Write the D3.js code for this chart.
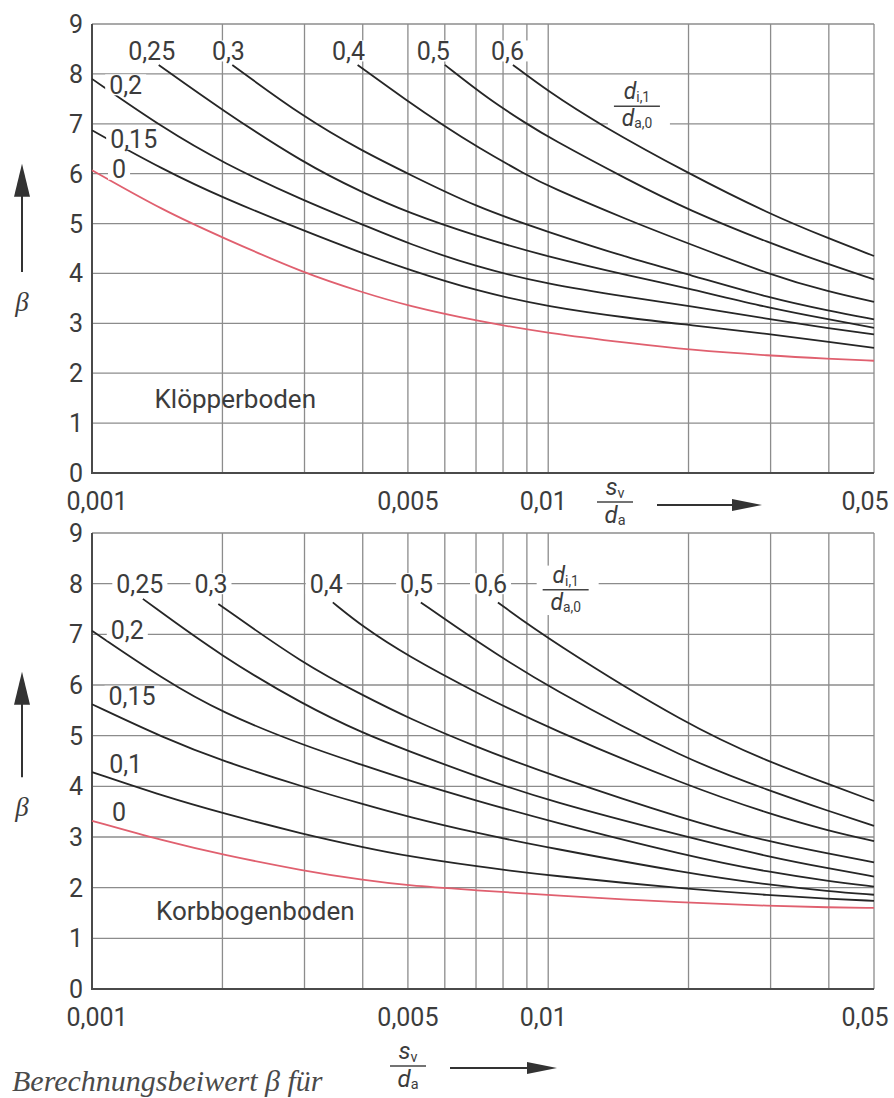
<!DOCTYPE html>
<html>
<head>
<meta charset="utf-8">
<script src="https://cdn.jsdelivr.net/npm/d3@7"></script>
<style>
  body { margin: 0; background: #fff; }
  text { font-family: Roboto, "DejaVu Sans", sans-serif; fill: #3c3c3c; }
</style>
</head>
<body>
<svg id="chart" width="894" height="1098"></svg>
<script>
// x = s_v / d_a (log), y = beta
var xTickValues = [0.001, 0.005, 0.01, 0.05];
var xTickLabels = ['0,001', '0,005', '0,01', '0,05'];
var xGridValues = [0.002, 0.003, 0.004, 0.005, 0.006, 0.007, 0.008, 0.009, 0.01, 0.02, 0.03, 0.04, 0.05];
var yTickValues = [0, 1, 2, 3, 4, 5, 6, 7, 8, 9];

// Klöpperboden, one array per d_i,1/d_a,0
var ratioLabelsTop = ['0', '0,15', '0,2', '0,25', '0,3', '0,4', '0,5', '0,6'];
var kl00 = [[0.001, 6.07], [0.0015, 5.25], [0.002, 4.72], [0.003, 4.0], [0.004, 3.62], [0.005, 3.35], [0.007, 3.05], [0.01, 2.8], [0.015, 2.6], [0.02, 2.47], [0.03, 2.35], [0.04, 2.29], [0.05, 2.25]];
var kl15 = [[0.001, 6.87], [0.0015, 6.07], [0.002, 5.52], [0.003, 4.85], [0.004, 4.4], [0.005, 4.08], [0.007, 3.65], [0.01, 3.33], [0.015, 3.1], [0.02, 2.97], [0.03, 2.78], [0.04, 2.63], [0.05, 2.51]];
var kl20 = [[0.001, 7.9], [0.0015, 6.9], [0.002, 6.22], [0.003, 5.45], [0.004, 4.98], [0.005, 4.6], [0.007, 4.13], [0.01, 3.78], [0.015, 3.52], [0.02, 3.35], [0.03, 3.08], [0.04, 2.9], [0.05, 2.78]];
var kl25 = [[0.00146, 8.18], [0.002, 7.27], [0.003, 6.2], [0.004, 5.62], [0.005, 5.22], [0.007, 4.75], [0.01, 4.33], [0.015, 3.95], [0.02, 3.7], [0.03, 3.3], [0.04, 3.08], [0.05, 2.91]];
var kl30 = [[0.0021, 8.18], [0.003, 7.12], [0.004, 6.45], [0.005, 6.0], [0.007, 5.33], [0.01, 4.83], [0.015, 4.3], [0.02, 3.98], [0.03, 3.5], [0.04, 3.25], [0.05, 3.08]];
var kl40 = [[0.0039, 8.18], [0.005, 7.45], [0.006, 6.95], [0.007, 6.55], [0.009, 5.97], [0.01, 5.75], [0.015, 5.05], [0.02, 4.6], [0.03, 3.97], [0.04, 3.63], [0.05, 3.43]];
var kl50 = [[0.006, 8.18], [0.0075, 7.47], [0.009, 7.0], [0.01, 6.73], [0.015, 5.85], [0.02, 5.27], [0.03, 4.6], [0.04, 4.18], [0.05, 3.88]];
var kl60 = [[0.0084, 8.18], [0.01, 7.65], [0.0128, 7.0], [0.02, 6.0], [0.03, 5.18], [0.04, 4.7], [0.05, 4.35]];

// Korbbogenboden
var ratioLabelsBottom = ['0', '0,1', '0,15', '0,2', '0,25', '0,3', '0,4', '0,5', '0,6'];
var kb00 = [[0.001, 3.32], [0.0015, 2.92], [0.002, 2.65], [0.003, 2.33], [0.004, 2.15], [0.005, 2.04], [0.007, 1.95], [0.01, 1.85], [0.02, 1.7], [0.03, 1.64], [0.04, 1.61], [0.05, 1.6]];
var kb10 = [[0.001, 4.28], [0.0015, 3.8], [0.002, 3.47], [0.003, 3.05], [0.004, 2.8], [0.005, 2.62], [0.007, 2.42], [0.01, 2.24], [0.02, 1.97], [0.03, 1.85], [0.04, 1.78], [0.05, 1.74]];
var kb15 = [[0.001, 5.62], [0.0015, 4.95], [0.002, 4.5], [0.003, 3.98], [0.004, 3.65], [0.005, 3.4], [0.007, 3.08], [0.01, 2.79], [0.02, 2.28], [0.03, 2.05], [0.04, 1.93], [0.05, 1.86]];
var kb20 = [[0.001, 7.07], [0.0015, 6.1], [0.002, 5.45], [0.003, 4.8], [0.004, 4.42], [0.005, 4.12], [0.007, 3.72], [0.01, 3.32], [0.02, 2.62], [0.03, 2.3], [0.04, 2.13], [0.05, 2.02]];
var kb25 = [[0.00135, 7.7], [0.002, 6.55], [0.003, 5.6], [0.004, 5.05], [0.005, 4.7], [0.007, 4.2], [0.01, 3.71], [0.02, 2.99], [0.03, 2.6], [0.04, 2.38], [0.05, 2.22]];
var kb30 = [[0.00196, 7.6], [0.003, 6.4], [0.004, 5.8], [0.005, 5.35], [0.007, 4.78], [0.01, 4.24], [0.02, 3.32], [0.03, 2.9], [0.04, 2.67], [0.05, 2.5]];
var kb40 = [[0.00345, 7.63], [0.004, 7.15], [0.005, 6.57], [0.007, 5.85], [0.01, 5.15], [0.02, 4.0], [0.03, 3.45], [0.04, 3.12], [0.05, 2.92]];
var kb50 = [[0.00533, 7.63], [0.007, 6.87], [0.01, 5.95], [0.02, 4.5], [0.03, 3.91], [0.04, 3.51], [0.05, 3.22]];
var kb60 = [[0.0078, 7.63], [0.01, 6.9], [0.02, 5.19], [0.03, 4.47], [0.04, 4.04], [0.05, 3.71]];

// where the curve labels sit (s_v/d_a, beta)
var labelPosTop = [[0.0012, 6.09], [0.00129, 6.69], [0.00124, 7.78], [0.00141, 8.46], [0.00206, 8.46], [0.00373, 8.46], [0.00567, 8.46], [0.00818, 8.46]];
var labelPosBottom = [[0.0012, 3.49], [0.00124, 4.44], [0.00128, 5.78], [0.00125, 7.09], [0.00133, 8.0], [0.00189, 8.0], [0.00334, 8.0], [0.00522, 8.0], [0.00752, 8.0]];

var svg = d3.select('#chart');
var xScale = d3.scaleLog().domain([0.00105, 0.05]).range([92, 874]).clamp(true);
var xLeft = xScale.range()[0], xRight = xScale.range()[1];

var panels = [
  {title: 'Klöpperboden', top: 24, bottom: 473, curves: [kl00, kl15, kl20, kl25, kl30, kl40, kl50, kl60],
   labels: ratioLabelsTop, labelPos: labelPosTop, frac: [0.0155, 7.35], titleAt: [0.00143, 1.5],
   arrow: [4.03, 6.2], betaAt: 3.45, sFrac: [615, 502], sArrow: [657, 762, 505]},
  {title: 'Korbbogenboden', top: 533, bottom: 989, curves: [kb00, kb10, kb15, kb20, kb25, kb30, kb40, kb50, kb60],
   labels: ratioLabelsBottom, labelPos: labelPosBottom, frac: [0.0109, 7.88], titleAt: [0.00144, 1.54],
   arrow: [4.18, 6.26], betaAt: 3.6, sFrac: [408, 1066], sArrow: [450, 557, 1068]}
];

function boxedText(g, cx, cy, str, size, pad) {
  var grp = g.append('g');
  grp.append('rect').attr('fill', '#fff');
  var t = grp.append('text').attr('x', cx).attr('y', cy).attr('dy', '0.36em')
    .attr('text-anchor', 'middle').style('font-size', size + 'px').text(str);
  var b = t.node().getBBox();
  grp.select('rect').attr('x', b.x - pad).attr('y', cy - size * 0.42)
    .attr('width', b.width + 2 * pad).attr('height', size * 0.84);
}

function fraction(g, cx, cy, num, numSub, den, denSub, size, half, boxed) {
  var grp = g.append('g');
  if (boxed) {
    grp.append('rect').attr('x', cx - half - 6).attr('y', cy - size * 1.05)
      .attr('width', 2 * half + 16).attr('height', size * 2.15).attr('fill', '#fff');
  }
  var t1 = grp.append('text').attr('x', cx).attr('y', cy - 7).attr('text-anchor', 'middle');
  t1.append('tspan').style('font-style', 'italic').style('font-size', size + 'px').text(num);
  t1.append('tspan').attr('dy', 3).style('font-size', (size * 0.6) + 'px').text(numSub);
  grp.append('line').attr('x1', cx - half).attr('x2', cx + half).attr('y1', cy).attr('y2', cy)
    .attr('stroke', '#444').attr('stroke-width', 1.5);
  var t2 = grp.append('text').attr('x', cx).attr('y', cy + size * 0.86).attr('text-anchor', 'middle');
  t2.append('tspan').style('font-style', 'italic').style('font-size', size + 'px').text(den);
  t2.append('tspan').attr('dy', 2).style('font-size', (size * 0.6) + 'px').text(denSub);
}

function arrowUp(g, x, yTip, yTail) {
  g.append('line').attr('x1', x).attr('x2', x).attr('y1', yTip + 20).attr('y2', yTail)
    .attr('stroke', '#333').attr('stroke-width', 2);
  g.append('path').attr('d', 'M' + x + ',' + yTip + 'l-8,33h16z').attr('fill', '#333');
}

function arrowRight(g, xTail, xTip, y) {
  g.append('line').attr('x1', xTail).attr('x2', xTip - 20).attr('y1', y).attr('y2', y)
    .attr('stroke', '#333').attr('stroke-width', 2);
  g.append('path').attr('d', 'M' + xTip + ',' + y + 'l-30,-6v12z').attr('fill', '#333');
}

panels.forEach(function (p) {
  var y = d3.scaleLinear().domain([0, 9]).range([p.bottom, p.top]);
  var g = svg.append('g');

  // grid
  g.selectAll('line.h').data(yTickValues).enter().append('line').attr('class', 'h')
    .attr('x1', xLeft).attr('x2', xRight)
    .attr('y1', function (d) { return y(d); }).attr('y2', function (d) { return y(d); })
    .attr('stroke', '#8c8c8c').attr('stroke-width', 1.3);
  g.selectAll('line.v').data(xGridValues).enter().append('line').attr('class', 'v')
    .attr('x1', function (d) { return xScale(d); }).attr('x2', function (d) { return xScale(d); })
    .attr('y1', p.top).attr('y2', p.bottom)
    .attr('stroke', '#8c8c8c').attr('stroke-width', 1.3);
  g.append('path').attr('d', 'M' + xLeft + ',' + p.top + 'V' + p.bottom + 'H' + xRight)
    .attr('fill', 'none').attr('stroke', '#4a4a4a').attr('stroke-width', 2);

  // tick labels
  g.selectAll('text.yt').data(yTickValues).enter().append('text').attr('class', 'yt')
    .attr('x', 83).attr('y', function (d) { return y(d); }).attr('dy', '0.36em')
    .attr('text-anchor', 'end').style('font-size', '25px').text(function (d) { return d; });
  var tickShift = [5, 0, -5, -9];
  g.selectAll('text.xt').data(xTickValues).enter().append('text').attr('class', 'xt')
    .attr('x', function (d, i) { return xScale(d) + tickShift[i]; })
    .attr('y', p.bottom + 28).attr('dy', '0.36em')
    .attr('text-anchor', 'middle').style('font-size', '25px')
    .text(function (d, i) { return xTickLabels[i]; });

  // ratio legend sits under the curves so it only cuts the grid
  fraction(g, xScale(p.frac[0]), y(p.frac[1]), 'd', 'i,1', 'd', 'a,0', 23, 23, true);

  // curves
  var line = d3.line()
    .x(function (d) { return xScale(d[0]); })
    .y(function (d) { return y(d[1]); })
    .curve(d3.curveBasis);
  g.selectAll('path.c').data(p.curves).enter().append('path').attr('class', 'c')
    .attr('d', line).attr('fill', 'none')
    .attr('stroke', function (d, i) { return i === 0 ? '#e0606f' : '#262626'; })
    .attr('stroke-width', 1.8);

  // curve labels
  p.labels.forEach(function (lab, i) {
    boxedText(g, xScale(p.labelPos[i][0]), y(p.labelPos[i][1]), lab, 25, 4);
  });

  g.append('text').attr('x', xScale(p.titleAt[0])).attr('y', y(p.titleAt[1])).attr('dy', '0.36em')
    .style('font-size', '26px').text(p.title);

  // beta axis arrow and symbol
  arrowUp(g, 22, y(p.arrow[1]), y(p.arrow[0]));
  g.append('text').attr('x', 22).attr('y', y(p.betaAt)).attr('dy', '0.36em').attr('text-anchor', 'middle')
    .style('font-family', '"Liberation Serif", serif').style('font-style', 'italic')
    .style('font-size', '27px').text('β');

  // s_v / d_a with arrow
  fraction(g, p.sFrac[0], p.sFrac[1], 's', 'v', 'd', 'a', 24, 18, false);
  arrowRight(g, p.sArrow[0], p.sArrow[1], p.sArrow[2]);
});

svg.append('text').attr('x', 12).attr('y', 1091)
  .style('font-family', '"Liberation Serif", serif').style('font-style', 'italic')
  .style('font-size', '30px').style('fill', '#4a4a4a')
  .text('Berechnungsbeiwert β für');
</script>
</body>
</html>
